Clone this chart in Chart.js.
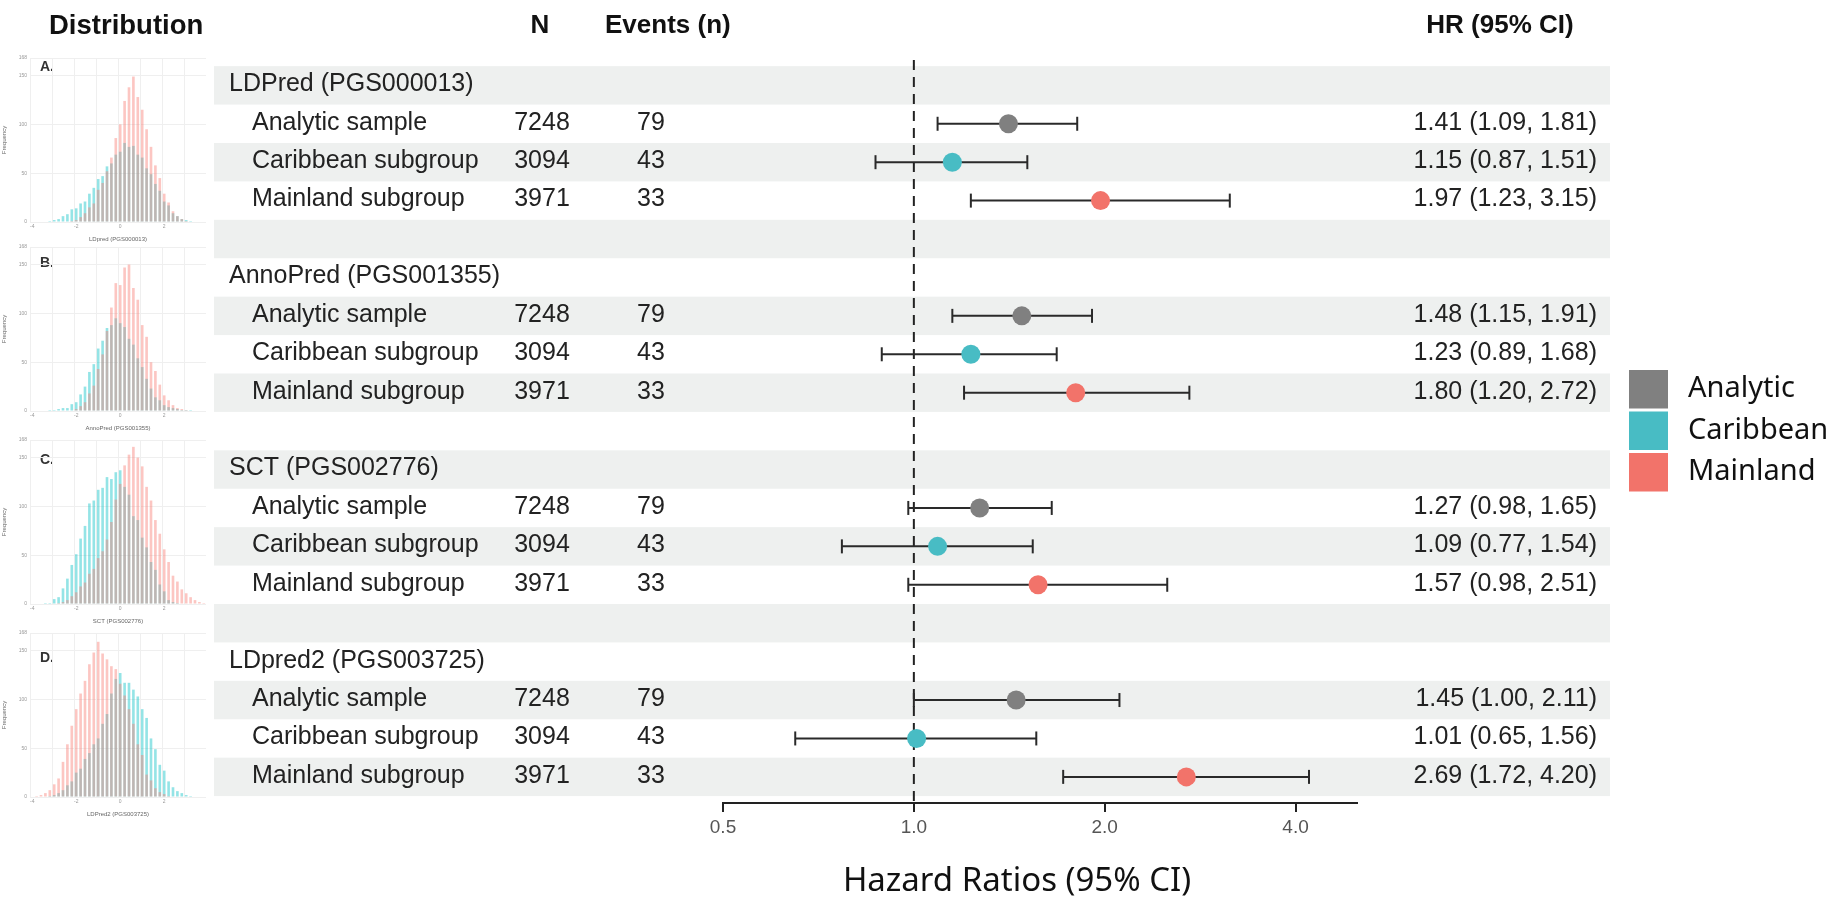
<!DOCTYPE html>
<html>
<head>
<meta charset="utf-8">
<script src="https://cdn.jsdelivr.net/npm/chart.js@4.4.1/dist/chart.umd.min.js"></script>
<style>
html, body { margin: 0; padding: 0; background: #fff; }
#wrap { position: relative; width: 1838px; height: 899px; overflow: hidden; }
#forest { position: absolute; left: 0; top: 0; }
.dist { position: absolute; left: 0; }
</style>
</head>
<body>
<div id="wrap">
  <canvas id="forest" width="1838" height="899"></canvas>
  <canvas class="dist" id="distA" width="212" height="192" style="top:52px"></canvas>
  <canvas class="dist" id="distB" width="212" height="192" style="top:241px"></canvas>
  <canvas class="dist" id="distC" width="212" height="192" style="top:434px"></canvas>
  <canvas class="dist" id="distD" width="212" height="192" style="top:627px"></canvas>
</div>
<script>
// --- data ---
const scoreNames = ['LDPred (PGS000013)', 'AnnoPred (PGS001355)', 'SCT (PGS002776)', 'LDpred2 (PGS003725)'];
const subgroupNames = ['Analytic sample', 'Caribbean subgroup', 'Mainland subgroup'];
const sampleN = [7248, 3094, 3971];
const eventsN = [79, 43, 33];

const hrAnalytic = [1.41, 1.48, 1.27, 1.45];
const loAnalytic = [1.09, 1.15, 0.98, 1.00];
const hiAnalytic = [1.81, 1.91, 1.65, 2.11];

const hrCaribbean = [1.15, 1.23, 1.09, 1.01];
const loCaribbean = [0.87, 0.89, 0.77, 0.65];
const hiCaribbean = [1.51, 1.68, 1.54, 1.56];

const hrMainland = [1.97, 1.80, 1.57, 2.69];
const loMainland = [1.23, 1.20, 0.98, 1.72];
const hiMainland = [3.15, 2.72, 2.51, 4.20];

const xTicks = [0.5, 1, 2, 4];
const xTickLabels = ['0.5', '1.0', '2.0', '4.0'];
const legendNames = ['Analytic', 'Caribbean', 'Mainland'];

// distribution thumbnails (frequency per bin)
const histBins = ['-4.0','-3.8','-3.6','-3.4','-3.2','-3.0','-2.8','-2.6','-2.4','-2.2',
                  '-2.0','-1.8','-1.6','-1.4','-1.2','-1.0','-0.8','-0.6','-0.4','-0.2',
                  '0.0','0.2','0.4','0.6','0.8','1.0','1.2','1.4','1.6','1.8',
                  '2.0','2.2','2.4','2.6','2.8','3.0','3.2','3.4','3.6','3.8'];
const histTitles = ['LDpred (PGS000013)', 'AnnoPred (PGS001355)', 'SCT (PGS002776)', 'LDPred2 (PGS003725)'];
const panelLetters = ['A.', 'B.', 'C.', 'D.'];

const mainlandA  = [0,0,0,0,0,0,0,0,0,1,2,5,9,15,19,33,40,52,66,86,100,124,138,149,128,115,95,77,58,45,29,20,11,6,3,1,0,0,0,0];
const caribbeanA = [0,0,0,0,1,2,3,6,8,13,14,19,21,29,35,44,47,57,60,69,72,81,77,78,69,66,55,49,39,32,21,17,9,6,3,2,1,0,0,0];
const mainlandB  = [0,0,0,0,0,0,0,0,0,0,2,5,9,18,26,43,58,82,106,131,129,147,150,126,114,88,76,50,41,27,16,11,6,3,2,1,0,0,0,0];
const caribbeanB = [0,0,0,0,1,1,2,3,3,7,9,17,25,40,48,64,72,85,88,95,90,86,74,68,54,45,33,23,14,11,6,4,3,2,1,1,1,0,0,0];
const mainlandC  = [0,0,0,0,0,0,1,2,4,8,12,18,22,31,36,47,54,66,84,107,123,142,153,161,150,141,120,106,86,72,56,43,29,23,15,11,7,4,2,1];
const caribbeanC = [0,0,0,1,1,5,7,16,26,40,51,67,80,103,106,117,119,130,128,135,137,120,112,90,86,68,58,43,35,20,13,4,2,1,0,0,0,0,0,0];
const mainlandD  = [0,1,2,4,7,13,19,36,54,73,90,106,119,136,148,159,147,141,134,131,116,104,90,75,54,43,23,17,9,5,3,1,0,0,0,0,0,0,0,0];
const caribbeanD = [0,0,0,0,1,2,4,7,12,16,25,29,39,45,54,60,75,85,106,121,127,117,117,110,103,90,81,60,49,33,27,16,10,6,4,2,1,0,0,0];

// --- styles ---
const FONT = "'Liberation Sans', Arial, Helvetica, sans-serif";
const FONT2 = "'Noto Sans', 'DejaVu Sans', sans-serif";
const colors = ['#808080', '#48BCC4', '#F2736A'];
const bandColor = '#EEF0EF';
const yMin = -0.66, yMax = 18.68;

const groupHr = [hrAnalytic, hrCaribbean, hrMainland];
const groupLo = [loAnalytic, loCaribbean, loMainland];
const groupHi = [hiAnalytic, hiCaribbean, hiMainland];
const rowOf = (g, s) => g * 5 + 1 + s;
const rowCount = scoreNames.length * 5 - 1;

const datasets = [];
// reference line at HR = 1
datasets.push({
    type: 'line', data: [{x: 1, y: yMin}, {x: 1, y: yMax}],
    borderColor: '#222', borderWidth: 2, borderDash: [10, 7], pointRadius: 0, order: 3
});
// confidence intervals
scoreNames.forEach((name, g) => {
    subgroupNames.forEach((sub, s) => {
        const y = rowOf(g, s);
        datasets.push({
            type: 'line', data: [{x: groupLo[s][g], y}, {x: groupHi[s][g], y}],
            borderColor: '#2a2a2a', borderWidth: 2,
            pointStyle: 'line', pointRotation: 90, pointRadius: 7,
            pointBorderWidth: 2, pointBorderColor: '#2a2a2a', order: 2
        });
    });
});
// point estimates
legendNames.forEach((nm, s) => {
    datasets.push({
        type: 'scatter', label: nm,
        data: scoreNames.map((_, g) => ({x: groupHr[s][g], y: rowOf(g, s)})),
        pointRadius: 9.5, backgroundColor: colors[s], borderColor: colors[s], borderWidth: 0, order: 1
    });
});

const tablePlugin = {
    id: 'table',
    beforeDatasetsDraw(chart) {
        const {ctx, scales: {y}} = chart;
        ctx.save();
        ctx.fillStyle = bandColor;
        for (let r = 0; r < rowCount; r += 2) {
            const t = y.getPixelForValue(r - 0.5), b = y.getPixelForValue(r + 0.5);
            ctx.fillRect(214, t, 1610 - 214, b - t);
        }
        ctx.restore();
    },
    afterDraw(chart) {
        const {ctx, scales: {y}} = chart;
        ctx.save();
        ctx.textBaseline = 'middle';
        ctx.fillStyle = '#111';
        // headers
        ctx.textAlign = 'left';
        ctx.font = `bold 27.5px ${FONT}`;
        ctx.fillText('Distribution', 49, 26);
        ctx.font = `bold 26px ${FONT}`;
        ctx.fillText('Events (n)', 605, 26);
        ctx.textAlign = 'center';
        ctx.fillText('N', 540, 26);
        ctx.fillText('HR (95% CI)', 1500, 26);

        // rows
        ctx.font = `25px ${FONT}`;
        ctx.fillStyle = '#222';
        scoreNames.forEach((name, g) => {
            ctx.textAlign = 'left';
            ctx.fillText(name, 229, y.getPixelForValue(g * 5) - 1);
            subgroupNames.forEach((sub, s) => {
                const py = y.getPixelForValue(rowOf(g, s)) - 1;
                ctx.textAlign = 'left';
                ctx.fillText(sub, 252, py);
                ctx.fillText(String(eventsN[s]), 637, py);
                ctx.textAlign = 'center';
                ctx.fillText(String(sampleN[s]), 542, py);
                ctx.textAlign = 'right';
                const txt = `${groupHr[s][g].toFixed(2)} (${groupLo[s][g].toFixed(2)}, ${groupHi[s][g].toFixed(2)})`;
                ctx.fillText(txt, 1597, py);
            });
        });

        // panel letters
        ctx.font = `bold 14px ${FONT}`;
        ctx.fillStyle = '#333';
        ctx.textAlign = 'left';
        [67, 263, 460, 658].forEach((py, i) => ctx.fillText(panelLetters[i], 40, py));

        // axis title
        ctx.font = `33px ${FONT2}`;
        ctx.fillStyle = '#111';
        ctx.textAlign = 'center';
        ctx.fillText('Hazard Ratios (95% CI)', 1017, 882);

        // legend
        ctx.font = `29px ${FONT2}`;
        ctx.textAlign = 'left';
        legendNames.forEach((nm, i) => {
            const top = 370 + i * 41.5;
            ctx.fillStyle = colors[i];
            ctx.fillRect(1629, top, 39, 38.5);
            ctx.fillStyle = '#111';
            ctx.fillText(nm, 1688, top + 19);
        });
        ctx.restore();
    }
};

new Chart(document.getElementById('forest'), {
    type: 'scatter',
    data: { datasets },
    options: {
        responsive: false,
        animation: false,
        events: [],
        layout: { padding: { left: 723, right: 481, top: 60, bottom: 0 } },
        plugins: { legend: { display: false }, tooltip: { enabled: false } },
        scales: {
            x: {
                type: 'logarithmic', min: 0.5, max: 5,
                afterBuildTicks: sc => { sc.ticks = xTicks.map(v => ({ value: v })); },
                afterFit: sc => { sc.height = 96; },
                ticks: {
                    autoSkip: false, maxRotation: 0, padding: 4,
                    color: '#555', font: { family: FONT, size: 19 },
                    callback: v => { const i = xTicks.indexOf(v); return i >= 0 ? xTickLabels[i] : ''; }
                },
                grid: { drawOnChartArea: false, drawTicks: true, tickLength: 9, color: '#222', lineWidth: 2 },
                border: { display: true, color: '#222', width: 2 }
            },
            y: { type: 'linear', reverse: true, min: yMin, max: yMax, display: false }
        }
    },
    plugins: [tablePlugin]
});

// distribution thumbnails
function drawHist(id, mainland, caribbean, xTitle) {
    new Chart(document.getElementById(id), {
        type: 'bar',
        data: {
            labels: histBins,
            datasets: [
                { label: 'Mainland', data: mainland, backgroundColor: 'rgba(248,118,109,0.42)',
                  grouped: false, barPercentage: 0.6, categoryPercentage: 1 },
                { label: 'Caribbean', data: caribbean, backgroundColor: 'rgba(0,191,196,0.42)',
                  grouped: false, barPercentage: 0.6, categoryPercentage: 1 }
            ]
        },
        options: {
            responsive: false,
            animation: false,
            events: [],
            layout: { padding: { top: 4, right: 6 } },
            plugins: { legend: { display: false }, tooltip: { enabled: false } },
            scales: {
                x: {
                    afterFit: sc => { sc.height = 22; },
                    ticks: {
                        autoSkip: false, maxRotation: 0, padding: 2,
                        color: '#999', font: { family: FONT, size: 5 },
                        callback: (v, i) => i % 10 === 0 ? String(Number(histBins[i])) : ''
                    },
                    grid: { color: c => c.index % 5 === 0 ? '#efefef' : 'transparent', drawTicks: false },
                    border: { display: false },
                    title: { display: true, text: xTitle, color: '#666', font: { family: FONT, size: 6 }, padding: 1 }
                },
                y: {
                    min: 0, max: 168,
                    afterFit: sc => { sc.width = 30; },
                    ticks: { stepSize: 50, color: '#999', font: { family: FONT, size: 5 }, padding: 3 },
                    grid: { color: '#efefef', drawTicks: false },
                    border: { display: false },
                    title: { display: true, text: 'Frequency', color: '#666', font: { family: FONT, size: 6 }, padding: 1 }
                }
            }
        }
    });
}
drawHist('distA', mainlandA, caribbeanA, histTitles[0]);
drawHist('distB', mainlandB, caribbeanB, histTitles[1]);
drawHist('distC', mainlandC, caribbeanC, histTitles[2]);
drawHist('distD', mainlandD, caribbeanD, histTitles[3]);
</script>
</body>
</html>
